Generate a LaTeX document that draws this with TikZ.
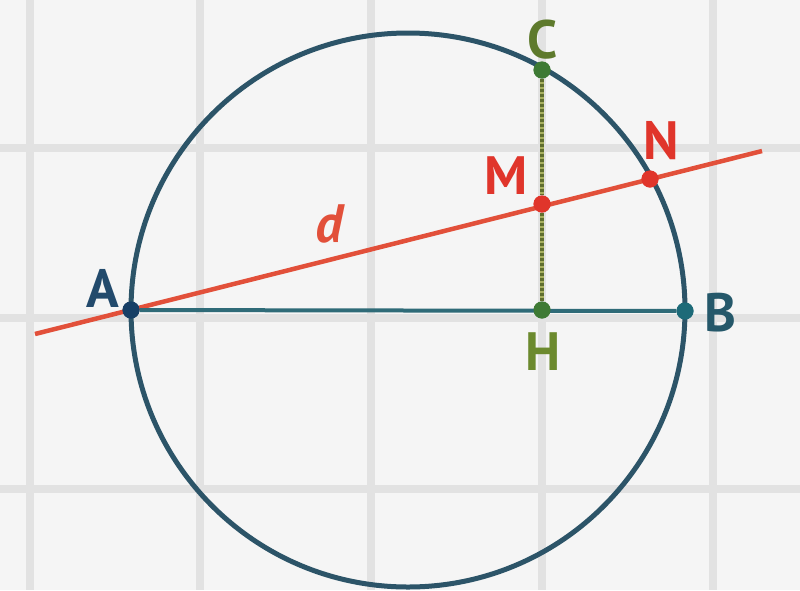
\documentclass[tikz,border=0pt]{standalone}
\usepackage{fontspec}
\setmainfont{PT Sans}
\definecolor{bgc}{HTML}{F5F5F5}
\definecolor{gridc}{HTML}{E2E2E2}
\definecolor{circc}{HTML}{2C5468}
\definecolor{abc}{HTML}{2F6B78}
\definecolor{redc}{HTML}{E2503A}
\definecolor{dotred}{HTML}{E0352B}
\definecolor{olivec}{HTML}{5F6E2E}
\definecolor{olivelt}{HTML}{A8B060}
\definecolor{greenc}{HTML}{3E7A34}
\definecolor{navyc}{HTML}{173F66}
\definecolor{tealc}{HTML}{1D6A78}
\definecolor{labA}{HTML}{224A6C}
\definecolor{labB}{HTML}{25586A}
\definecolor{labC}{HTML}{5E7A2C}
\definecolor{labH}{HTML}{6C8A2E}
\begin{document}
\begin{tikzpicture}[x=1pt,y=-1pt,
  gridline/.style={gridc,line width=8pt},
  pt/.style={circle,inner sep=0pt,minimum size=17pt,fill=#1},
  lab/.style={font=\fontsize{54}{54}\selectfont\bfseries,text=#1,inner sep=0pt},
  chline/.style={olivec,line width=4.5pt,dash pattern=on 3pt off 2pt,
    preaction={draw,olivelt,line width=4.5pt}},
  ]
\useasboundingbox (0,0) rectangle (800,590);
\fill[bgc] (0,0) rectangle (800,590);
% grid
\foreach \gx in {30,200,371,542,713} \draw[gridline] (\gx,0) -- (\gx,590);
\foreach \gy in {148,318,489} \draw[gridline] (0,\gy) -- (800,\gy);
% coordinates
\coordinate (O) at (408,310);
\coordinate (d1) at (35,334);
\coordinate (d2) at (762,151);
% circle
\draw[circc,line width=5pt] (O) circle (277pt);
% line d
\draw[redc,line width=4.5pt] (d1) -- (d2);
% points
\node[pt=navyc] (A) at (131,310) {};
\node[pt=tealc] (B) at (685,311) {};
\node[pt=greenc] (C) at (542,70) {};
\node[pt=greenc] (H) at (542,310) {};
\node[pt=dotred] (M) at (542,204) {};
\node[pt=dotred] (N) at (650,179) {};
% segments
\draw[abc,line width=4pt] (A) -- (B);
\draw[chline] (C) -- (M);
\draw[chline] (M) -- (H);
% redraw dots on top
\node[pt=navyc] at (A) {};
\node[pt=tealc] at (B) {};
\node[pt=greenc] at (C) {};
\node[pt=greenc] at (H) {};
\node[pt=dotred] at (M) {};
\node[pt=dotred] at (N) {};
% labels
\node[lab=labA] (lA) at (103,288) {A};
\node[lab=labB] (lB) at (720,313) {B};
\node[lab=labC] (lC) at (543,40) {C};
\node[lab=labH] (lH) at (543,352) {H};
\node[lab=dotred] (lM) at (506,176) {M};
\node[lab=dotred] (lN) at (661,141) {N};
\node[lab=redc,font=\fontsize{54}{54}\selectfont\bfseries\itshape] (ld) at (329,224) {d};
\end{tikzpicture}
\end{document}
